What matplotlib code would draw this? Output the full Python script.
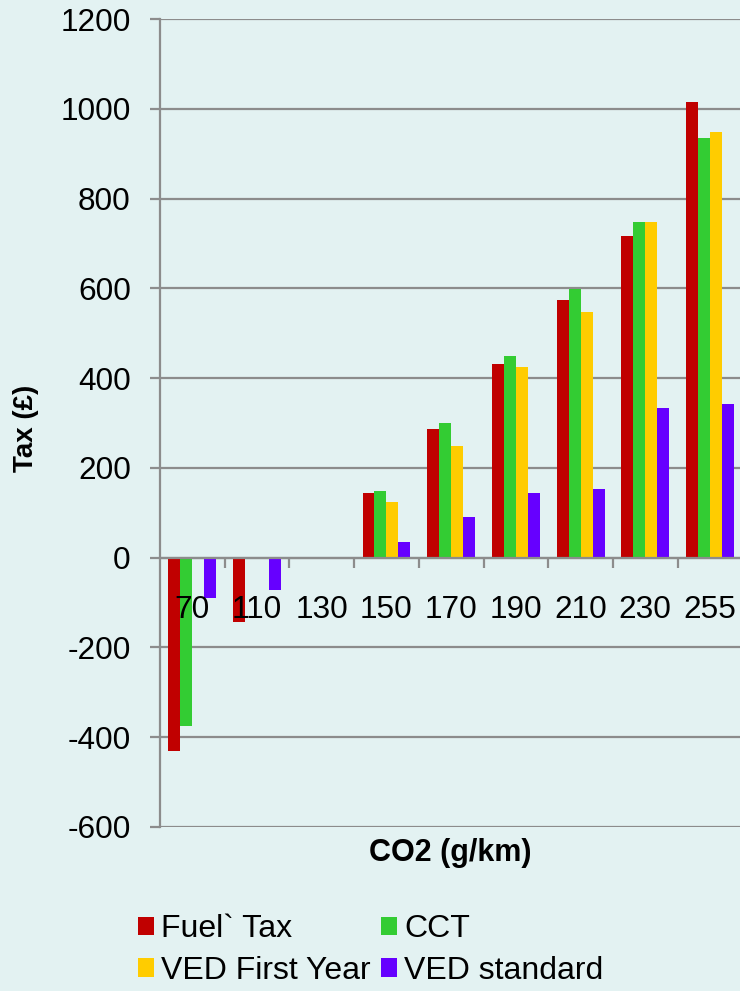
import matplotlib
matplotlib.use("Agg")
import matplotlib.pyplot as plt
import numpy as np
from matplotlib.patches import Patch

plt.rcParams["font.family"] = ["Liberation Sans", "DejaVu Sans"]
plt.rcParams["axes.unicode_minus"] = False

# CO2 bands (g/km) and tax per scheme (£)
co2_bands = ["70", "110", "130", "150", "170", "190", "210", "230", "255"]
fuel_tax = [-431, -144, 0, 143, 287, 431, 573, 717, 1015]
cct = [-374, 0, 0, 149, 299, 449, 598, 748, 935]
ved_first_year = [0, 0, 0, 124, 249, 425, 548, 748, 948]
ved_standard = [-90, -71, 0, 34, 90, 143, 154, 334, 343]

series_names = ["Fuel` Tax", "CCT", "VED First Year", "VED standard"]
series_colors = ["#C00000", "#33CC33", "#FFCC00", "#6600FF"]
series_values = [fuel_tax, cct, ved_first_year, ved_standard]

bg = "#E3F2F2"
grid_col = "#8C8C8C"
fs = 22.7

fig = plt.figure(figsize=(7.40, 9.91), dpi=100, facecolor=bg)
ax = fig.add_axes([0.2162, 0.1655, 0.787, 0.8153], facecolor=bg)

x = np.arange(len(co2_bands))
bw = 0.185
for i, (vals, col) in enumerate(zip(series_values, series_colors)):
    ax.bar(x + (i - 1.5) * bw, vals, width=bw, color=col, zorder=3,
           edgecolor="none")

ax.set_ylim(-600, 1200)
ax.set_xlim(-0.5, len(co2_bands) - 0.5)
ax.set_yticks(np.arange(-600, 1201, 200))
ax.yaxis.grid(True, color=grid_col, linewidth=1.6, zorder=0)
ax.tick_params(axis="y", length=7, width=1.6, color=grid_col,
               labelsize=fs, pad=14)

# category axis sits on the zero line, its labels drawn over the bars
for s in ["top", "right"]:
    ax.spines[s].set_visible(False)
ax.spines["left"].set_color(grid_col)
ax.spines["left"].set_linewidth(1.6)
ax.spines["bottom"].set_position(("data", 0))
ax.spines["bottom"].set_color(grid_col)
ax.spines["bottom"].set_linewidth(1.6)
ax.spines["bottom"].set_zorder(4)
ax.xaxis.set_zorder(5)

ax.set_xticks(np.arange(0.5, len(co2_bands) - 0.5, 1.0))
ax.set_xticklabels([])
ax.tick_params(axis="x", which="major", direction="out", length=7,
               width=1.6, color=grid_col)
ax.set_xticks(x, minor=True)
ax.set_xticklabels(co2_bands, minor=True)
ax.tick_params(axis="x", which="minor", length=0, labelsize=fs, pad=27)

fig.text(0.035, 0.568, "Tax (£)", fontsize=20, fontweight="bold",
         rotation=90, ha="center", va="center")
fig.text(0.609, 0.139, "CO2 (g/km)", fontsize=22, fontweight="bold",
         ha="center", va="center")

# legend filled row by row: Fuel` Tax, CCT / VED First Year, VED standard
order = [0, 2, 1, 3]
handles = [Patch(facecolor=series_colors[k], edgecolor="none") for k in order]
labels = [series_names[k] for k in order]
fig.legend(handles, labels, ncol=2, loc="upper left",
           bbox_to_anchor=(0.186, 0.0777), frameon=False, fontsize=23,
           handlelength=0.5, handleheight=0.5, handletextpad=0.22,
           columnspacing=0.34, labelspacing=0.37, borderaxespad=0,
           borderpad=0)

fig.savefig("out.png", dpi=100, facecolor=bg)
